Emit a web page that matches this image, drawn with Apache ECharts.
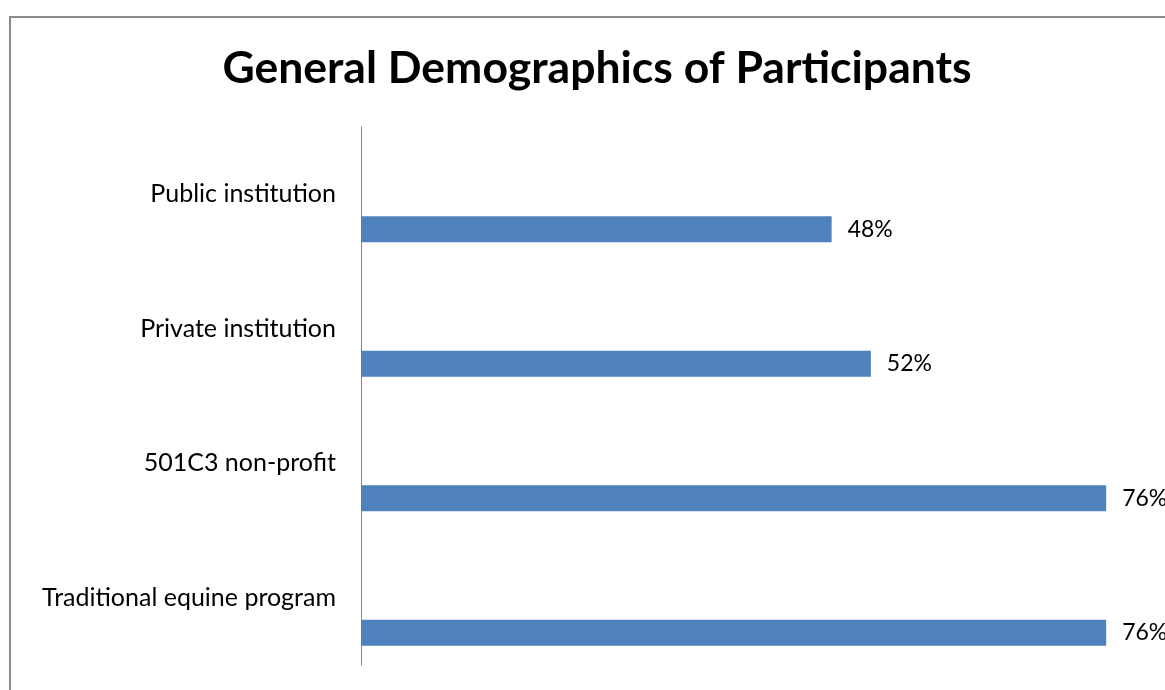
<!DOCTYPE html>
<html>
<head>
<meta charset="utf-8">
<script src="https://cdn.jsdelivr.net/npm/echarts@6/dist/echarts.min.js"></script>
<style>
  html, body { margin: 0; padding: 0; background: #fff; }
  #chart { width: 1165px; height: 690px; }
</style>
</head>
<body>
<div id="chart"></div>
<script>
// Participant groups and the share of participants in each
const categories = ['Public institution', 'Private institution', '501C3 non-profit', 'Traditional equine program'];
const shares = [48, 52, 76, 76];
// empty companion series that keeps each bar in the lower half of its row
const spacer = [null, null, null, null];

const chart = echarts.init(document.getElementById('chart'), null, { renderer: 'canvas' });

chart.setOption({
  animation: false,
  backgroundColor: '#ffffff',
  title: {
    text: 'General Demographics of Participants',
    left: 592,
    textAlign: 'center',
    top: 41,
    textStyle: { fontFamily: 'Lato', fontWeight: 'bold', fontSize: 44.5, color: '#000' }
  },
  graphic: [{
    type: 'rect',
    shape: { x: 10, y: 17, width: 1300, height: 800 },
    style: { fill: 'none', stroke: '#8a8a8a', lineWidth: 2 },
    silent: true
  }],
  grid: { left: 361, right: 0, top: 127, bottom: 25, containLabel: false },
  xAxis: {
    type: 'value',
    min: 0,
    max: 82,
    show: false
  },
  yAxis: {
    type: 'category',
    inverse: true,
    data: categories,
    axisTick: { show: false },
    axisLine: { show: true, lineStyle: { color: '#868686', width: 1 } },
    axisLabel: { margin: 25, fontFamily: 'Lato', fontSize: 25, color: '#000' }
  },
  series: [
    {
      name: 'Spacer',
      type: 'bar',
      data: spacer,
      barWidth: 26,
      barGap: '170%'
    },
    {
      name: 'Share',
      type: 'bar',
      data: shares,
      barWidth: 26,
      barGap: '170%',
      itemStyle: { color: '#4f81bd' },
      label: {
        show: true,
        position: 'right',
        distance: 16,
        formatter: '{c}%',
        fontFamily: 'Lato',
        fontSize: 23,
        color: '#000'
      }
    }
  ]
});
</script>
</body>
</html>
